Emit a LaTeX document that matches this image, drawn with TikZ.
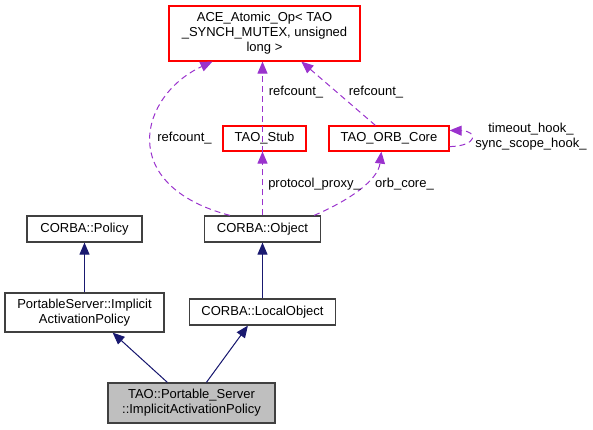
\documentclass[tikz,border=0pt]{standalone}
\usepackage{fontspec}
\setmainfont{Liberation Sans}
\usetikzlibrary{arrows.meta,calc}
\definecolor{edgeblue}{HTML}{191970}
\definecolor{edgepurple}{HTML}{9A32CD}
\definecolor{boxred}{HTML}{FF0000}
\definecolor{boxgrey}{HTML}{404040}
\definecolor{boxfill}{HTML}{BFBFBF}
\tikzset{
  cls/.style={draw=boxgrey, line width=1.2pt, inner sep=0pt, align=center, font=\fontsize{13}{15}\selectfont},
  redcls/.style={cls, draw=boxred},
  lbl/.style={inner sep=0pt, font=\fontsize{13}{15}\selectfont, align=center},
  inh/.style={draw=edgeblue, line width=1pt, -{Triangle[length=12pt,width=10pt]}, fill=edgeblue},
  use/.style={draw=edgepurple, line width=1pt, dash pattern=on 6pt off 4pt, -{Triangle[length=12pt,width=10pt,fill=edgepurple]}},
}
\begin{document}
\begin{tikzpicture}[x=1pt,y=-1pt]
\useasboundingbox (0,0) rectangle (593,429);
\node[redcls, minimum width=191pt, minimum height=55pt] (ace) at (264.5,33.5) {ACE\_Atomic\_Op< TAO\\\_SYNCH\_MUTEX, unsigned\\long >};
\node[redcls, minimum width=83pt, minimum height=25pt] (stub) at (264.5,138.5) {TAO\_Stub};
\node[redcls, minimum width=120pt, minimum height=25pt] (orb) at (389,138.5) {TAO\_ORB\_Core};
\node[cls, minimum width=116pt, minimum height=26pt] (obj) at (262.5,229) {CORBA::Object};
\node[cls, minimum width=115pt, minimum height=26pt] (pol) at (84.5,229) {CORBA::Policy};
\node[cls, minimum width=159pt, minimum height=39pt] (ps) at (84.5,312.5) {PortableServer::Implicit\\ActivationPolicy};
\node[cls, minimum width=146pt, minimum height=26pt] (lo) at (262.5,312) {CORBA::LocalObject};
\node[cls, fill=boxfill, minimum width=167pt, minimum height=40pt] (tao) at (191.5,403) {TAO::Portable\_Server\\::ImplicitActivationPolicy};

% inheritance
\draw[inh] (ps.north) -- (pol.south);
\draw[inh] (lo.north) -- (obj.south);
\draw[inh] ($(tao.north west)+(60,0)$) -- ($(ps.south east)+(-52,0)$);
\draw[inh] ($(tao.north west)+(99,0)$) -- ($(lo.south west)+(59,0)$);

% usage
\draw[use] ($(obj.north west)+(26,0)$) .. controls (115,185) and (140,95) .. ($(ace.south west)+(44,0)$);
\draw[use] ($(stub.south)+(-2,0)$) -- ($(ace.south)+(-2,0)$);
\draw[use] ($(obj.north)+(0,0)$) -- ($(stub.south)+(-2,0)$);
\draw[use] ($(orb.north west)+(47,0)$) -- ($(ace.south west)+(133,0)$);
\draw[use] ($(obj.north east)+(-7,0)$) .. controls (350,200) and (378,180) .. ($(orb.south west)+(53,0)$);
\draw[use] ($(orb.south east)+(0,-5)$) .. controls (478,146) and (478,131) .. ($(orb.north east)+(0,5)$);

% labels
\node[lbl] (l1) at (184.5,138) {refcount\_};
\node[lbl] (l2) at (296,92) {refcount\_};
\node[lbl] (l3) at (376,92) {refcount\_};
\node[lbl] (l4) at (314.5,184) {protocol\_proxy\_};
\node[lbl] (l5) at (404.5,184) {orb\_core\_};
\node[lbl] (l6) at (531,137) {timeout\_hook\_\\sync\_scope\_hook\_};
\end{tikzpicture}
\end{document}
